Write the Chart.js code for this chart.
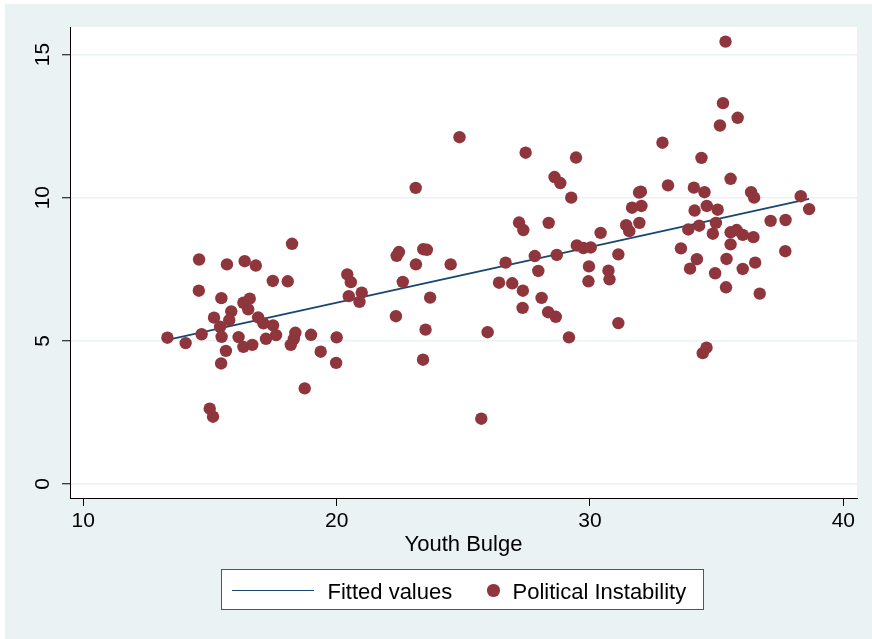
<!DOCTYPE html>
<html>
<head>
<meta charset="utf-8">
<title>Youth Bulge and Political Instability</title>
<script src="https://cdn.jsdelivr.net/npm/chart.js@4.4.1/dist/chart.umd.min.js"></script>
<style>
  html, body { margin: 0; padding: 0; background: #ffffff; }
  #wrap { position: relative; width: 872px; height: 639px; overflow: hidden; }
  #chart { position: absolute; left: 0; top: 0; }
  #legend {
    position: absolute; left: 221px; top: 569px; width: 481px; height: 39px;
    border: 1.5px solid #555555; background: #ffffff;
    font-family: "Liberation Sans", Arial, sans-serif; font-size: 22px; color: #000000;
  }
  #legend .sym, #legend .txt { position: absolute; }
  #legend .txt { top: 1.5px; height: 39px; line-height: 39px; white-space: nowrap; }
</style>
</head>
<body>
<div id="wrap">
  <canvas id="chart" width="872" height="639"></canvas>
  <div id="legend"></div>
</div>
<script>
// Country observations: share of young adults vs. political instability index
const youthBulge = [
  13.32, 14.04, 14.57, 14.56, 14.67, 14.99, 15.12, 15.16, 15.45, 15.40,
  15.46, 15.44, 15.67, 15.63, 15.84, 15.76, 16.37, 16.81, 16.32, 16.57,
  16.51, 16.13, 16.32, 16.67, 16.90, 17.11, 17.49, 17.61, 17.21, 17.48,
  18.07, 18.24, 18.37, 18.31, 18.19, 18.99, 19.37, 18.74, 20.00, 19.98,
  20.42, 20.56, 20.48, 20.99, 20.90,
  22.37, 22.46, 23.12, 23.13, 22.61, 23.42, 23.56, 23.69, 22.34, 23.51,
  23.41, 24.50, 24.85, 25.96, 25.71, 26.41, 26.67, 26.93, 27.20, 27.37,
  27.35, 27.34, 27.46, 27.82, 27.96, 28.09, 28.37, 28.35, 28.60, 28.83,
  28.65, 28.69, 29.17, 29.26, 29.45, 29.48, 29.74, 30.03, 29.96, 29.94,
  30.42, 30.73, 30.77, 31.12, 31.12,
  31.43, 31.55, 31.66, 32.03, 31.94, 32.01, 31.95, 32.86, 33.08, 33.59,
  33.88, 33.95, 34.10, 34.13, 34.22, 34.31, 34.40, 34.52, 34.61, 34.45,
  34.60, 34.85, 34.94, 35.04, 34.97, 35.13, 35.25, 35.35, 35.37, 35.39,
  35.55, 35.55, 35.55, 35.83, 35.79, 36.03, 36.03, 36.36, 36.48, 36.45,
  36.52, 36.70, 37.13, 37.71, 37.72, 38.32, 38.65
];
const politicalInstability = [
  5.11, 4.92, 7.84, 6.75, 5.23, 2.63, 2.35, 5.81, 6.49, 5.49,
  5.14, 4.21, 7.67, 4.65, 6.03, 5.72, 7.78, 7.63, 6.33, 6.47,
  6.10, 5.13, 4.79, 4.86, 5.82, 5.61, 5.54, 5.20, 5.07, 7.09,
  7.08, 8.39, 5.28, 5.07, 4.86, 5.21, 4.62, 3.34, 5.12, 4.23,
  7.32, 7.05, 6.56, 6.68, 6.36,
  7.97, 8.10, 10.34, 7.67, 7.06, 8.20, 8.18, 6.51, 5.86, 5.39,
  4.34, 7.67, 12.11, 5.30, 2.28, 7.03, 7.73, 7.01, 9.13, 8.87,
  6.75, 6.15, 11.57, 7.96, 7.44, 6.50, 9.12, 6.00, 10.72, 10.51,
  5.84, 8.00, 5.12, 10.00, 11.40, 8.33, 8.24, 8.26, 7.60, 7.08,
  8.77, 7.45, 7.15, 8.02, 5.62,
  9.04, 8.83, 9.65, 9.71, 10.18, 10.21, 9.12, 11.92, 10.43, 8.23,
  8.89, 7.52, 10.35, 9.55, 7.85, 9.02, 11.39, 10.19, 9.71, 4.57,
  4.76, 8.74, 7.36, 9.58, 9.12, 12.52, 13.30, 15.45, 6.87, 7.86,
  8.79, 8.37, 10.66, 12.79, 8.87, 8.70, 7.51, 10.19, 10.00, 8.62,
  7.73, 6.65, 9.19, 8.13, 9.22, 10.05, 9.60
];

// Linear fit, evaluated at the smallest and largest youth bulge
const fittedX = [13.32, 38.65];
const fittedY = [5.03, 9.96];

// Axis ticks and labels
const xTicks = [10, 20, 30, 40];
const yTicks = [0, 5, 10, 15];
const xTitle = 'Youth Bulge';
const seriesNames = ['Fitted values', 'Political Instability'];

const FONT = '"Liberation Sans", Arial, Helvetica, sans-serif';
const NAVY = '#1a476f';
const MAROON = '#8f353c';
const PANEL = '#eaf2f3';

// Paints the outer graph region and the white plot region
const backdrop = {
  id: 'backdrop',
  beforeDraw(chart) {
    const { ctx, width, height, chartArea: a } = chart;
    ctx.save();
    ctx.fillStyle = '#ffffff';
    ctx.fillRect(0, 0, width, height);
    ctx.fillStyle = PANEL;
    ctx.fillRect(5, 4, width - 5, height - 4);
    ctx.fillStyle = '#ffffff';
    ctx.fillRect(a.left, a.top, a.right - a.left, a.bottom - a.top);
    ctx.restore();
  }
};

const chart = new Chart(document.getElementById('chart'), {
  type: 'scatter',
  data: {
    datasets: [
      {
        type: 'line',
        label: seriesNames[0],
        data: fittedX.map((x, i) => ({ x, y: fittedY[i] })),
        borderColor: NAVY,
        borderWidth: 1.8,
        pointRadius: 0,
        fill: false,
        tension: 0,
        order: 2
      },
      {
        label: seriesNames[1],
        data: youthBulge.map((x, i) => ({ x, y: politicalInstability[i] })),
        backgroundColor: MAROON,
        borderColor: MAROON,
        borderWidth: 0,
        pointRadius: 6.2,
        pointHoverRadius: 6.2,
        order: 1
      }
    ]
  },
  options: {
    responsive: false,
    animation: false,
    events: [],
    layout: { padding: { left: 0, right: 15, top: 27, bottom: 81 } },
    plugins: { legend: { display: false }, tooltip: { enabled: false } },
    scales: {
      x: {
        type: 'linear',
        position: 'bottom',
        min: 9.475,
        max: 40.54,
        afterBuildTicks(s) { s.ticks = xTicks.map(v => ({ value: v })); },
        afterFit(s) { s.height = 60; },
        grid: { drawOnChartArea: false, drawTicks: true, tickLength: 8, tickColor: '#000000', tickWidth: 1 },
        border: { display: true, color: '#000000', width: 1 },
        ticks: { color: '#000000', font: { family: FONT, size: 21 }, padding: 3, maxRotation: 0, autoSkip: false },
        title: { display: true, text: xTitle, color: '#000000', font: { family: FONT, size: 22 }, padding: { top: 0, bottom: 0 } }
      },
      y: {
        type: 'linear',
        position: 'left',
        min: -0.489,
        max: 15.96,
        afterBuildTicks(s) { s.ticks = yTicks.map(v => ({ value: v })); },
        afterFit(s) { s.width = 70; },
        grid: { color: PANEL, lineWidth: 1.5, drawTicks: true, tickLength: 8, tickColor: '#000000', tickWidth: 1 },
        border: { display: true, color: '#000000', width: 1 },
        ticks: {
          color: '#000000', font: { family: FONT, size: 21 }, padding: 6.8,
          minRotation: 90, maxRotation: 90, crossAlign: 'center', autoSkip: false
        }
      }
    }
  },
  plugins: [backdrop]
});

// Legend built from the datasets: key symbol and label for each series
const legendSlots = [
  { sym: 9.5, txt: 105.5 },
  { sym: 271.5, txt: 290.5 }
];
const legend = document.getElementById('legend');
chart.data.datasets.forEach((ds, i) => {
  const slot = legendSlots[i];
  const sym = document.createElement('div');
  sym.className = 'sym';
  if (ds.type === 'line') {
    sym.style.left = slot.sym + 'px';
    sym.style.top = '19.5px';
    sym.style.width = '82px';
    sym.style.height = '0';
    sym.style.borderTop = '1.8px solid ' + ds.borderColor;
  } else {
    const r = ds.pointRadius;
    sym.style.left = (slot.sym - r) + 'px';
    sym.style.top = (20.5 - r) + 'px';
    sym.style.width = (2 * r) + 'px';
    sym.style.height = (2 * r) + 'px';
    sym.style.borderRadius = '50%';
    sym.style.background = ds.backgroundColor;
  }
  legend.appendChild(sym);
  const txt = document.createElement('div');
  txt.className = 'txt';
  txt.style.left = slot.txt + 'px';
  txt.textContent = ds.label;
  legend.appendChild(txt);
});
</script>
</body>
</html>
